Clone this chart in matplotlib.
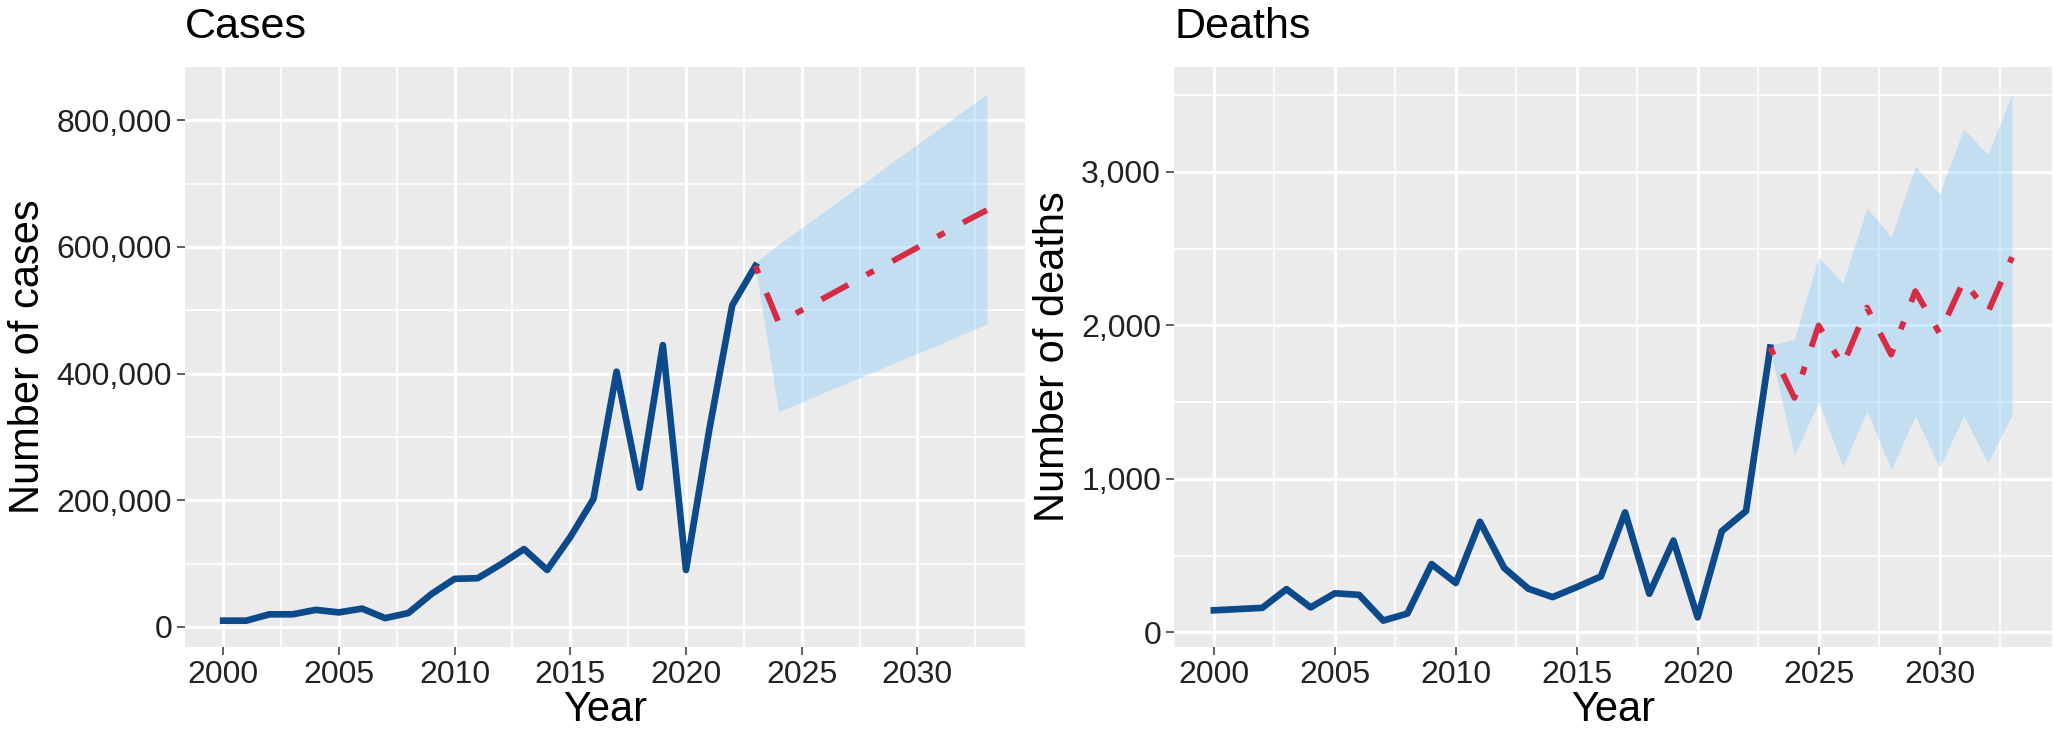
import numpy as np
import matplotlib
matplotlib.use("Agg")
import matplotlib.pyplot as plt
from matplotlib.ticker import FuncFormatter, MultipleLocator

# observed series
years = list(range(2000, 2024))
cases = [10000, 10000, 20000, 20000, 27000, 23000, 29000, 14000, 22000, 52000,
         76000, 77000, 99000, 123000, 90000, 142000, 202000, 403000, 220000,
         445000, 90000, 310000, 508000, 570000]
deaths = [144, 152, 160, 282, 163, 255, 245, 77, 123, 445, 322, 721, 420, 285,
          230, 295, 365, 782, 252, 598, 98, 660, 791, 1856]

# forecast series (2023-2033)
fc_years = list(range(2023, 2034))
cases_fc = [570000, 481000, 500000, 520000, 540000, 560000, 579000, 599000,
            619000, 639000, 658000]
cases_hi = [575000, 604000, 630000, 657000, 683000, 709000, 736000, 762000,
            788000, 815000, 841000]
cases_lo = [570000, 340000, 355000, 371000, 386000, 401000, 417000, 432000,
            447000, 463000, 478000]
deaths_fc = [1856, 1528, 2000, 1739, 2117, 1810, 2224, 1948, 2291, 2086, 2445]
deaths_hi = [1871, 1911, 2445, 2276, 2767, 2577, 3037, 2859, 3282, 3113, 3512]
deaths_lo = [1840, 1156, 1503, 1080, 1442, 1064, 1411, 1074, 1411, 1104, 1420]

BLUE = "#0C4A8C"
RED = "#D72B44"
BAND = "#89C9FB"
PANEL = "#EBEBEB"

plt.rcParams["font.family"] = ["Liberation Sans", "DejaVu Sans"]

W, H = 2054, 738
fig = plt.figure(figsize=(W / 100, H / 100), dpi=100)


def px_axes(x0, x1, y0, y1):
    return fig.add_axes([x0 / W, (H - y1) / H, (x1 - x0) / W, (y1 - y0) / H])


def style(ax, ymajor, yminor, ylabel, title):
    ax.set_facecolor(PANEL)
    for s in ax.spines.values():
        s.set_visible(False)
    ax.xaxis.set_major_locator(MultipleLocator(5))
    ax.xaxis.set_minor_locator(MultipleLocator(2.5))
    ax.yaxis.set_major_locator(MultipleLocator(ymajor))
    ax.yaxis.set_minor_locator(MultipleLocator(yminor))
    ax.grid(which="major", color="white", lw=2.3, zorder=0)
    ax.grid(which="minor", color="white", lw=1.2, zorder=0)
    ax.set_axisbelow(True)
    ax.tick_params(which="major", length=5.8, width=1.1, color="#333333",
                   labelsize=23, labelcolor="#222222", pad=3.5)
    ax.tick_params(which="minor", length=0)
    ax.yaxis.set_major_formatter(FuncFormatter(lambda v, _: f"{v:,.0f}"))
    ax.set_xlabel("Year", fontsize=30, labelpad=0)
    ax.set_ylabel(ylabel, fontsize=30, labelpad=6)
    ax.set_title(title, fontsize=31, loc="left", pad=21)
    ax.set_xlim(1998.35, 2034.65)


def draw(ax, obs, fc, lo, hi):
    ax.fill_between(fc_years, lo, hi, color=BAND, alpha=0.4, lw=0, zorder=2)
    ax.plot(years, obs, color=BLUE, lw=4.8, solid_joinstyle="round", zorder=3)
    ax.plot(fc_years, fc, color=RED, lw=4.2, linestyle=(0, (1.4, 3.6, 5.2, 3.6)),
            zorder=4)


axL = px_axes(185, 1025, 67, 647)
draw(axL, cases, cases_fc, cases_lo, cases_hi)
style(axL, 200000, 100000, "Number of cases", "Cases")
axL.set_ylim(-31600, 884000)

axR = px_axes(1174, 2052, 67, 647)
draw(axR, deaths, deaths_fc, deaths_lo, deaths_hi)
style(axR, 1000, 500, "Number of deaths", "Deaths")
axR.set_ylim(-95, 3684)

fig.savefig("out.png", dpi=100)
